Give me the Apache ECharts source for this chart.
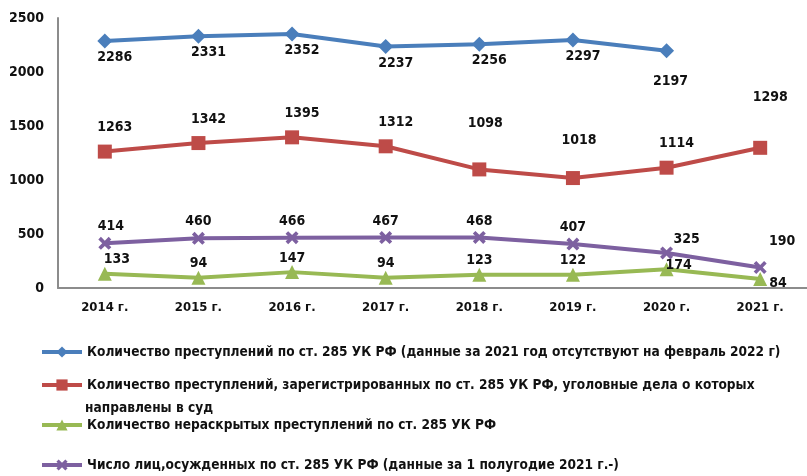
<!DOCTYPE html>
<html>
<head>
<meta charset="utf-8">
<script src="https://cdn.jsdelivr.net/npm/echarts@6/dist/echarts.min.js"></script>
<style>
  html, body { margin: 0; padding: 0; background: #fff; }
  #chart { width: 807px; height: 476px; }
</style>
</head>
<body>
<div id="chart"></div>
<script>
// категории и ряды
var years = ['2014 г.', '2015 г.', '2016 г.', '2017 г.', '2018 г.', '2019 г.', '2020 г.', '2021 г.'];
var crimes = [2286, 2331, 2352, 2237, 2256, 2297, 2197, null];
var toCourt = [1263, 1342, 1395, 1312, 1098, 1018, 1114, 1298];
var unsolved = [133, 94, 147, 94, 123, 122, 174, 84];
var convicted = [414, 460, 466, 467, 468, 407, 325, 190];
var yTicks = [0, 500, 1000, 1500, 2000, 2500];

var names = [
  'Количество преступлений по ст. 285 УК РФ (данные за 2021 год отсутствуют на февраль 2022 г)',
  'Количество преступлений, зарегистрированных по ст. 285 УК РФ, уголовные дела о которых направлены в суд',
  'Количество нераскрытых преступлений по ст. 285 УК РФ',
  'Число лиц,осужденных по ст. 285 УК РФ (данные за 1 полугодие 2021 г.-)'
];
var wrapAt = ' направлены';

var FONT = 'DejaVu Sans Condensed';
var xPath = 'path://M2,0 L5,3 L8,0 L10,2 L7,5 L10,8 L8,10 L5,7 L2,10 L0,8 L3,5 L0,2 Z';

// подписи: сдвиги отдельных точек
var blueShift = {6: [4, 14]};
var redShift = {4: [6, -22], 5: [6, -14], 7: [10, -26]};
var purpleShift = {0: [6, 0], 6: [20, 3], 7: [22, -10]};
var greenShift = {0: [12, 0], 6: [12, 10]};

function withLabels(arr, shift, base) {
  return arr.map(function (v, i) {
    var o = {value: v};
    if (shift[i]) o.label = {offset: shift[i]};
    if (base && base[i]) o.label = base[i];
    return o;
  });
}

var labelStyle = {
  show: true,
  color: '#111',
  fontFamily: FONT,
  fontWeight: 'bold',
  fontSize: 14
};
var legendText = {color: '#111', fontWeight: 'bold', fontSize: 13.6, fontFamily: FONT, overflow: 'none'};

var myChart = echarts.init(document.getElementById('chart'));

var option = {
  animation: false,
  textStyle: {fontFamily: FONT},
  grid: {left: 58, right: -11, top: 18, bottom: 188, containLabel: false},
  xAxis: {
    type: 'category',
    data: years,
    axisLine: {lineStyle: {color: '#8c8c8c', width: 2}},
    axisTick: {show: false},
    axisLabel: {color: '#111', fontWeight: 'bold', fontSize: 13, margin: 13, fontFamily: FONT}
  },
  yAxis: {
    type: 'value',
    min: 0,
    max: yTicks[yTicks.length - 1],
    interval: 500,
    axisLine: {show: true, lineStyle: {color: '#8c8c8c', width: 2}},
    axisTick: {show: false},
    splitLine: {show: false},
    axisLabel: {
      color: '#111', fontWeight: 'bold', fontSize: 14, margin: 14, fontFamily: FONT,
      formatter: function (v) { return String(v); }
    }
  },
  legend: [
    {data: [names[0]], top: 345},
    {data: [names[1]], top: 378},
    {data: [names[2]], top: 418},
    {data: [names[3]], top: 458}
  ].map(function (l) {
    l.left = 40;
    l.padding = 0;
    l.width = 790;
    l.orient = 'vertical';
    l.itemWidth = 40;
    l.itemHeight = 14;
    l.itemGap = 4;
    l.lineStyle = {width: 4};
    l.formatter = function (n) {
      return n === names[1] ? n.split(wrapAt)[0] : n;
    };
    l.textStyle = legendText;
    return l;
  }),
  graphic: [{
    type: 'text',
    left: 85,
    top: 401,
    style: {text: wrapAt.trim() + names[1].split(wrapAt)[1], fill: '#111',
      font: 'bold 13.6px "DejaVu Sans Condensed"'}
  }],
  series: [
    {
      name: names[0],
      type: 'line',
      data: withLabels(crimes, blueShift),
      color: '#4a7ebb',
      lineStyle: {width: 4},
      symbol: 'diamond',
      symbolSize: 15,
      label: Object.assign({position: 'bottom', distance: 2, offset: [10, 0]}, labelStyle)
    },
    {
      name: names[1],
      type: 'line',
      data: withLabels(toCourt, redShift),
      color: '#be4b48',
      lineStyle: {width: 4},
      symbol: 'rect',
      symbolSize: 14,
      label: Object.assign({position: 'top', distance: 10, offset: [10, 0]}, labelStyle)
    },
    {
      name: names[2],
      type: 'line',
      data: withLabels(unsolved, greenShift, {7: {position: 'right', offset: [2, 4]}}),
      color: '#98b954',
      lineStyle: {width: 4},
      symbol: 'triangle',
      symbolSize: 14,
      label: Object.assign({position: 'top', distance: 0}, labelStyle)
    },
    {
      name: names[3],
      type: 'line',
      data: withLabels(convicted, purpleShift),
      color: '#7d60a0',
      lineStyle: {width: 4},
      symbol: xPath,
      symbolSize: 13,
      label: Object.assign({position: 'top', distance: 3}, labelStyle)
    }
  ]
};

myChart.setOption(option);
</script>
</body>
</html>
